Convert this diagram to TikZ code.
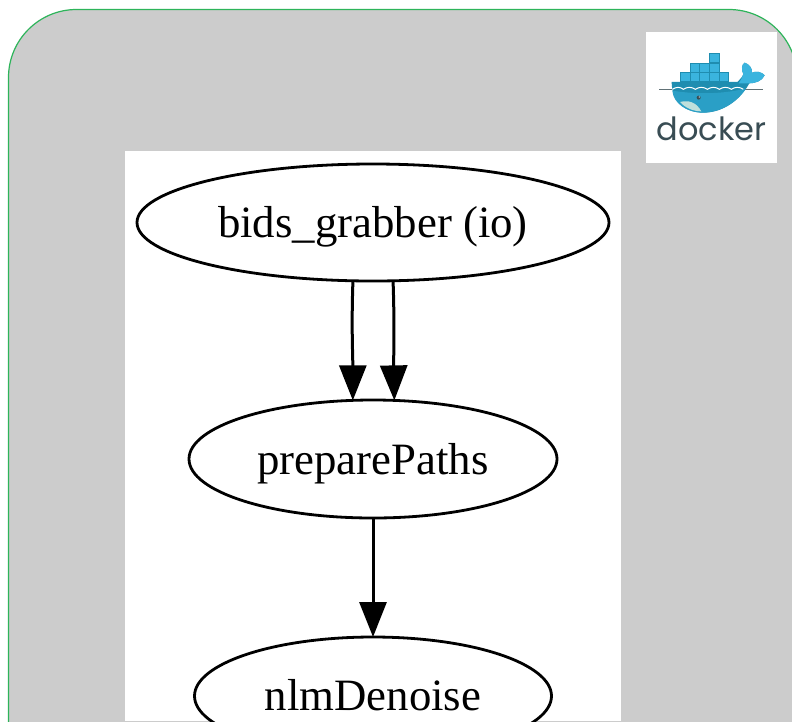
\documentclass[tikz,border=0pt]{standalone}
\usepackage{fontspec}
\setmainfont{Liberation Serif}
\newfontfamily\dockerfont{Poppins}
\usetikzlibrary{shapes.geometric,arrows.meta}
\definecolor{panelgrey}{HTML}{CCCCCC}
\definecolor{panelline}{HTML}{2DB45A}
\definecolor{dkdark}{HTML}{1F8DB0}
\definecolor{dklight}{HTML}{3AB4DE}
\definecolor{dkmid}{HTML}{2A9FC6}
\definecolor{dktext}{HTML}{394D54}
\definecolor{dkbelly}{HTML}{BFE0DC}
\tikzset{
  graphnode/.style={draw=black,line width=2.8pt,ellipse,fill=white,inner sep=0pt,outer sep=0pt,text depth=0pt,font=\fontsize{44.8}{48}\selectfont},
  edgeline/.style={draw=black,line width=3pt,-{Triangle[length=35pt,width=27pt,fill=black]}},
  crate/.style={draw=dkdark,line width=1pt,fill=dklight}
}
\begin{document}
\begin{tikzpicture}[x=1pt,y=-1pt]
\useasboundingbox (0,0) rectangle (792,721);
\draw[panelline,fill=panelgrey,line width=1.2pt,rounded corners=68pt] (8.5,9.5) rectangle (797,800);
\fill[white] (125,151) rectangle (621,721);
% docker logo
\fill[white] (646,32) rectangle (777,163);
\begin{scope}[shift={(630,20)},x=0.3333pt,y=-0.3333pt]
  \foreach \cx/\cy in {238/100,180/129,209/129,238/129,151/158,180/158,209/158,238/158,267/158}
    \draw[crate] (\cx,\cy) rectangle ++(29,28);
  \draw[dktext!80!white,line width=1pt] (88,210) -- (400,210);
  \fill[dkdark] (125,186) -- (322,186) .. controls (330,178) and (338,170) .. (340,162)
    .. controls (332,148) and (336,132) .. (344,128)
    .. controls (358,132) and (368,146) .. (366,158)
    .. controls (378,152) and (396,156) .. (404,166)
    .. controls (396,184) and (374,190) .. (358,190)
    .. controls (330,240) and (280,278) .. (220,278)
    .. controls (160,278) and (125,240) .. (125,186) -- cycle;
  \fill[dklight] (340,162) .. controls (332,148) and (336,132) .. (344,128)
    .. controls (358,132) and (368,146) .. (366,158)
    .. controls (378,152) and (396,156) .. (404,166)
    .. controls (396,184) and (374,190) .. (358,190)
    -- (326,190) .. controls (332,180) and (338,172) .. (340,162) -- cycle;
  \fill[dkmid] (127,212) .. controls (200,224) and (285,222) .. (348,205)
    .. controls (322,246) and (275,276) .. (220,278)
    .. controls (170,278) and (130,250) .. (127,212) -- cycle;
  \fill[dkbelly] (150,246) .. controls (175,240) and (198,245) .. (214,274)
    .. controls (190,274) and (166,264) .. (150,246) -- cycle;
  \draw[white,line width=1pt] (127,208) .. controls (140,200) and (150,200) .. (160,208)
    .. controls (172,200) and (184,200) .. (196,208)
    .. controls (208,200) and (220,200) .. (232,208)
    .. controls (244,200) and (256,200) .. (268,208)
    .. controls (280,200) and (292,200) .. (304,208)
    .. controls (316,200) and (328,200) .. (340,208);
  \fill[dktext] (206,233) circle (6);
  \fill[white] (208,231) circle (1.8);
  \node[anchor=center,text=dktext,font=\dockerfont\fontsize{32}{36}\selectfont,inner sep=0pt] (dockerword) at (245,327) {docker};
\end{scope}
% graph
\node[graphnode,minimum width=472pt,minimum height=117pt] (grabber) at (373,222.5) {\raisebox{1pt}{bids\_grabber (io)}};
\node[graphnode,minimum width=368pt,minimum height=118pt] (paths) at (373,459) {preparePaths};
\node[graphnode,minimum width=357pt,minimum height=118pt] (denoise) at (373,696) {\raisebox{2pt}{nlmDenoise}};
\draw[edgeline] (grabber.251) to[out=268,in=90] (paths.109);
\draw[edgeline] (grabber.289) to[out=272,in=91] (paths.70.5);
\draw[edgeline] (paths.south) -- (denoise.north);
\end{tikzpicture}
\end{document}
